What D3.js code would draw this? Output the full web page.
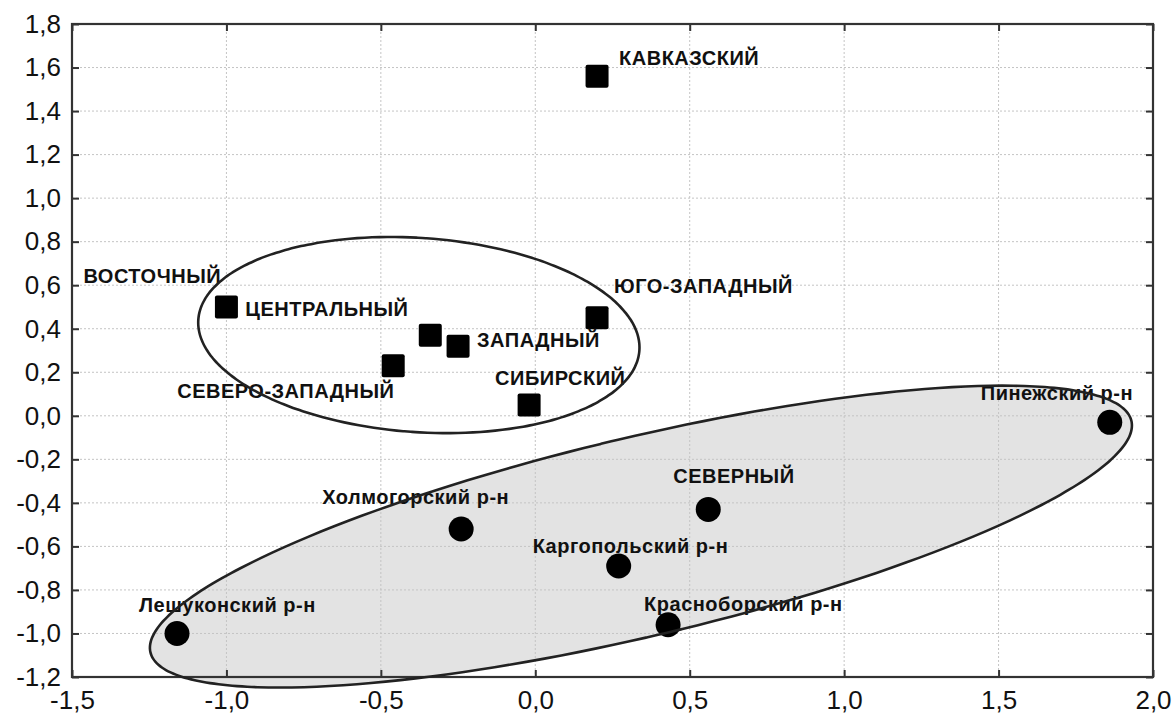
<!DOCTYPE html>
<html>
<head>
<meta charset="utf-8">
<script src="https://cdn.jsdelivr.net/npm/d3@7"></script>
<style>
  html, body { margin: 0; padding: 0; background: #fff; }
  svg { display: block; }
</style>
</head>
<body>
<svg id="chart" width="1175" height="718"></svg>
<script>
// Regions (squares)
const regionNames = ["КАВКАЗСКИЙ", "ВОСТОЧНЫЙ", "ЦЕНТРАЛЬНЫЙ", "ЗАПАДНЫЙ", "СЕВЕРО-ЗАПАДНЫЙ", "ЮГО-ЗАПАДНЫЙ", "СИБИРСКИЙ"];
const regionX = [0.20, -1.00, -0.34, -0.25, -0.46, 0.20, -0.02];
const regionY = [1.56, 0.50, 0.37, 0.32, 0.23, 0.45, 0.05];

// Districts (circles)
const districtNames = ["Пинежский р-н", "СЕВЕРНЫЙ", "Холмогорский р-н", "Каргопольский р-н", "Красноборский р-н", "Лешуконский р-н"];
const districtX = [1.86, 0.56, -0.24, 0.27, 0.43, -1.16];
const districtY = [-0.03, -0.43, -0.52, -0.69, -0.96, -1.00];

// Axis ticks
const xTicks = [-1.5, -1.0, -0.5, 0.0, 0.5, 1.0, 1.5, 2.0];
const yTicks = [-1.2, -1.0, -0.8, -0.6, -0.4, -0.2, 0.0, 0.2, 0.4, 0.6, 0.8, 1.0, 1.2, 1.4, 1.6, 1.8];

// Label placement relative to the marker centre (pixels)
const labelOffset = {
  "КАВКАЗСКИЙ": [22, -11],
  "ВОСТОЧНЫЙ": [-143, -24],
  "ЦЕНТРАЛЬНЫЙ": [-185, -19],
  "ЗАПАДНЫЙ": [19, 1],
  "СЕВЕРО-ЗАПАДНЫЙ": [-216, 32],
  "ЮГО-ЗАПАДНЫЙ": [17, -25],
  "СИБИРСКИЙ": [-34, -20],
  "Пинежский р-н": [-129, -22],
  "СЕВЕРНЫЙ": [-35, -26],
  "Холмогорский р-н": [-139, -25],
  "Каргопольский р-н": [-86, -13],
  "Красноборский р-н": [-24, -14],
  "Лешуконский р-н": [-38, -21]
};

// Group outlines: centre and two conjugate semi-axes, in data units
const groupUpper = { cx: -0.377, cy: 0.371, u: [0.714, -0.071], v: [-0.022, -0.445] };
const groupLower = { cx: 0.342, cy: -0.555, u: [1.588, 0.532], v: [0.074, -0.445] };

const svg = d3.select("#chart");
const plotL = 72, plotR = 1153, plotT = 24, plotB = 677;

const x = d3.scaleLinear().domain([-1.5, 2.0]).range([plotL, plotR]);
const y = d3.scaleLinear().domain([-1.2, 1.8]).range([plotB, plotT]);
const fmt = v => d3.format(".1f")(v).replace(".", ",").replace("−", "-");

function ellipsePath(e) {
  const pts = d3.range(0, 360, 2).map(deg => {
    const t = deg * Math.PI / 180;
    const dx = e.u[0] * Math.cos(t) + e.v[0] * Math.sin(t);
    const dy = e.u[1] * Math.cos(t) + e.v[1] * Math.sin(t);
    return [x(e.cx + dx), y(e.cy + dy)];
  });
  return d3.line().curve(d3.curveCardinalClosed)(pts);
}

// Shaded group fill sits beneath the grid
svg.append("path")
  .attr("d", ellipsePath(groupLower))
  .attr("fill", "#e3e3e3")
  .attr("stroke", "none");

// Dotted grid
const grid = svg.append("g").attr("stroke", "#c4c4c4").attr("stroke-width", 1).attr("stroke-dasharray", "2,2");
grid.selectAll(".gx").data(xTicks.slice(1, -1)).join("line")
  .attr("x1", d => x(d)).attr("x2", d => x(d)).attr("y1", plotT).attr("y2", plotB);
grid.selectAll(".gy").data(yTicks.slice(1, -1)).join("line")
  .attr("y1", d => y(d)).attr("y2", d => y(d)).attr("x1", plotL).attr("x2", plotR);

// Axes
const axisFont = "'Liberation Sans', Arial, sans-serif";
const gx = svg.append("g").attr("transform", `translate(0,${plotB})`)
  .call(d3.axisBottom(x).tickValues(xTicks).tickFormat(fmt).tickSizeInner(-7).tickSizeOuter(0).tickPadding(14));
const gy = svg.append("g").attr("transform", `translate(${plotL},0)`)
  .call(d3.axisLeft(y).tickValues(yTicks).tickFormat(fmt).tickSizeInner(-7).tickSizeOuter(0).tickPadding(11));
svg.append("g").attr("transform", `translate(0,${plotT})`)
  .call(d3.axisTop(x).tickValues(xTicks).tickFormat("").tickSizeInner(-7).tickSizeOuter(0));
svg.append("g").attr("transform", `translate(${plotR},0)`)
  .call(d3.axisRight(y).tickValues(yTicks).tickFormat("").tickSizeInner(-7).tickSizeOuter(0));

svg.selectAll(".domain").remove();
svg.selectAll(".tick line").attr("stroke", "#333").attr("stroke-width", 2);
[gx, gy].forEach(g => g.selectAll("text")
  .attr("font-family", axisFont).attr("font-size", 26).attr("fill", "#111"));
gx.selectAll("text").attr("dy", "0.71em");

// Frame
svg.append("rect")
  .attr("x", plotL).attr("y", plotT).attr("width", plotR - plotL).attr("height", plotB - plotT)
  .attr("fill", "none").attr("stroke", "#333").attr("stroke-width", 2.2);

// Markers
const regions = regionNames.map((n, i) => ({ name: n, x: regionX[i], y: regionY[i] }));
const districts = districtNames.map((n, i) => ({ name: n, x: districtX[i], y: districtY[i] }));

const sq = 23;
svg.append("g").selectAll("rect").data(regions).join("rect")
  .attr("x", d => x(d.x) - sq / 2).attr("y", d => y(d.y) - sq / 2)
  .attr("width", sq).attr("height", sq).attr("rx", 2)
  .attr("fill", "#000");

svg.append("g").selectAll("circle").data(districts).join("circle")
  .attr("cx", d => x(d.x)).attr("cy", d => y(d.y)).attr("r", 12.5)
  .attr("fill", "#000");

// Labels
svg.append("g").selectAll("text").data(regions.concat(districts)).join("text")
  .attr("x", d => x(d.x) + labelOffset[d.name][0])
  .attr("y", d => y(d.y) + labelOffset[d.name][1])
  .attr("font-family", axisFont).attr("font-size", 20).attr("font-weight", "bold")
  .attr("letter-spacing", 0.5)
  .attr("fill", "#111")
  .text(d => d.name);

// Group outlines on top
[groupUpper, groupLower].forEach(e => {
  svg.append("path")
    .attr("d", ellipsePath(e))
    .attr("fill", "none")
    .attr("stroke", "#222")
    .attr("stroke-width", 2.6);
});
</script>
</body>
</html>
